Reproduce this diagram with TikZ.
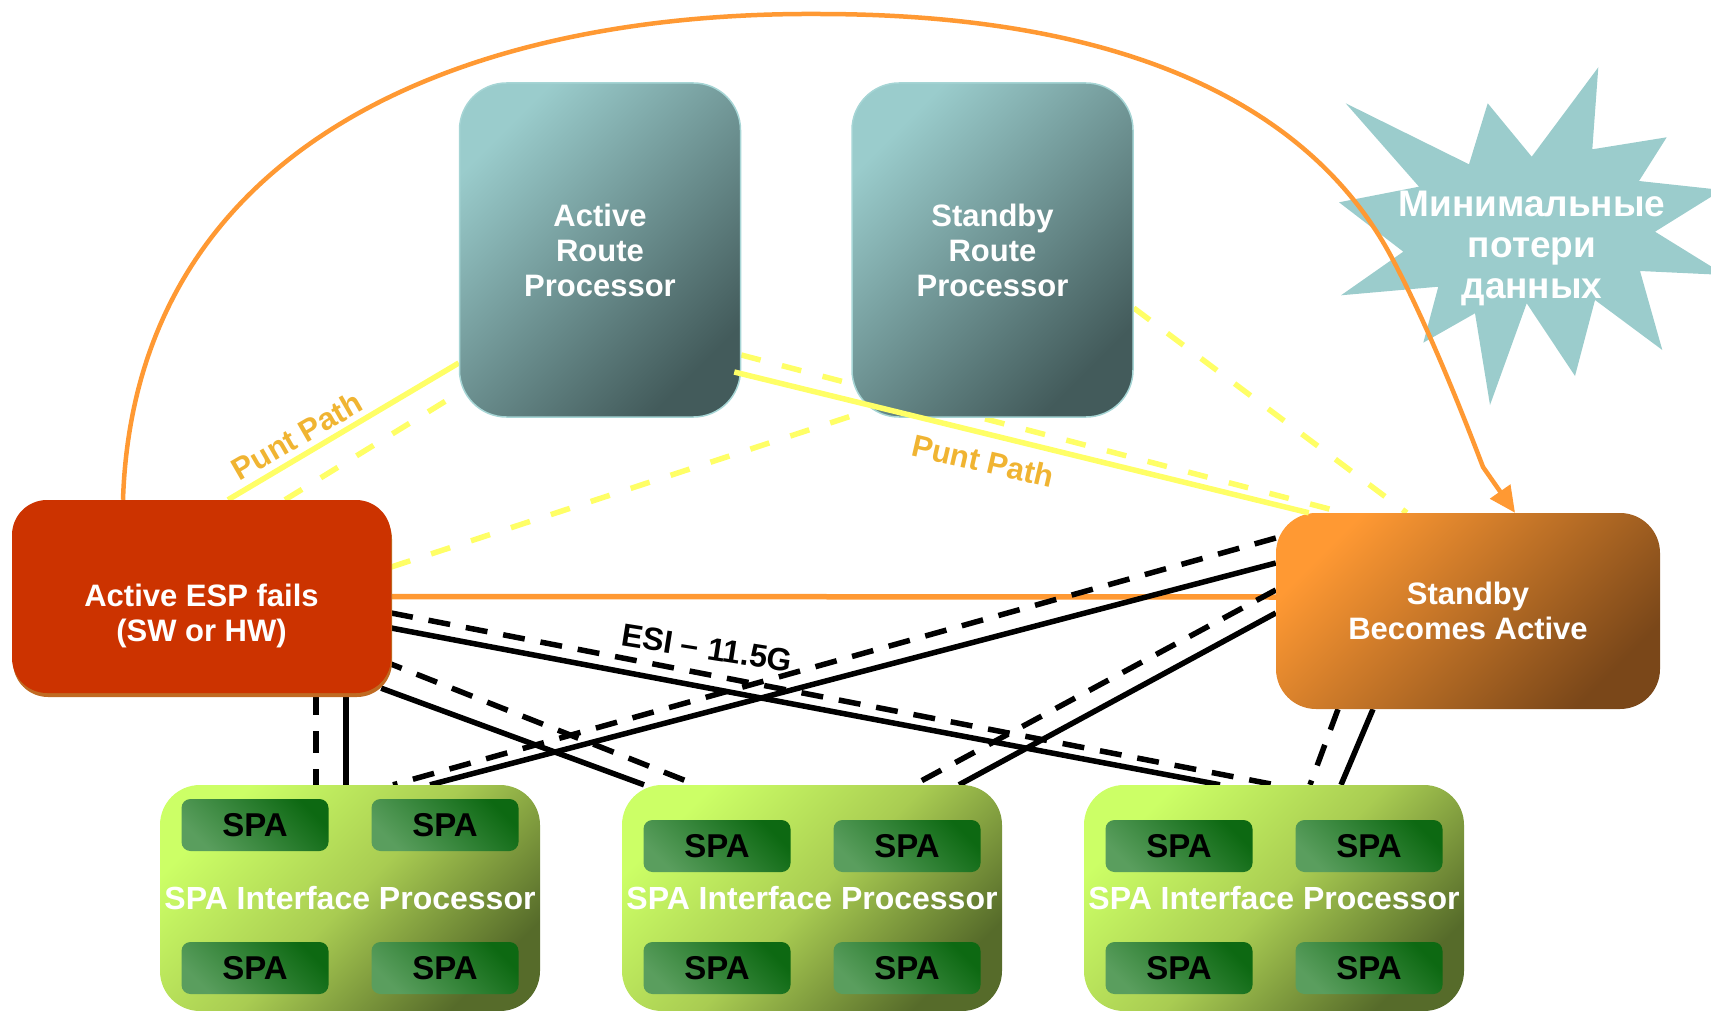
\documentclass[tikz,border=0pt]{standalone}
\usepackage{fontspec}
\setmainfont{Liberation Sans}
\usepackage{tikz}
\usetikzlibrary{arrows.meta,positioning,backgrounds,shadows}
\definecolor{espred}{HTML}{CC3300}
\definecolor{espshade}{HTML}{C06A22}
\definecolor{stbylight}{HTML}{FF9933}
\definecolor{stbydark}{HTML}{7A4719}
\definecolor{rplight}{HTML}{9ACCCC}
\definecolor{rpdark}{HTML}{435B5B}
\definecolor{rpedge}{HTML}{A6D5D5}
\definecolor{siplight}{HTML}{CCFF66}
\definecolor{sipmid}{HTML}{A9CC52}
\definecolor{sipdark}{HTML}{566B2A}
\definecolor{spalight}{HTML}{5A9E5E}
\definecolor{spadark}{HTML}{0D6912}
\definecolor{starfill}{HTML}{9BCCCC}
\definecolor{puntline}{HTML}{FFFF66}
\definecolor{puntgold}{HTML}{F0B432}
\definecolor{orng}{HTML}{FF9933}
\tikzset{
    boxtext/.style={inner sep=0pt, align=center, text=white, font=\fontsize{31}{35}\selectfont\bfseries},
    rpbox/.style={boxtext, minimum width=281pt, minimum height=334pt, rounded corners=47pt,
        draw=rpedge, line width=1.5pt, top color=rplight, bottom color=rpdark, shading angle=45},
    espbox/.style={inner sep=0pt, minimum width=379pt, minimum height=193pt, rounded corners=35pt,
        fill=espred, drop shadow={shadow xshift=1pt, shadow yshift=-4pt, fill=espshade, opacity=1}},
    stbybox/.style={boxtext, minimum width=384pt, minimum height=196pt, rounded corners=40pt,
        top color=stbylight, bottom color=stbydark, shading angle=45},
    sipbox/.style={boxtext, font=\fontsize{32}{36}\selectfont\bfseries, minimum width=380pt,
        minimum height=226pt, rounded corners=40pt, top color=siplight, bottom color=sipdark,
        middle color=sipmid, shading angle=45},
    spabox/.style={inner sep=0pt, font=\fontsize{33}{37}\selectfont\bfseries, minimum width=147pt,
        minimum height=52pt, rounded corners=9pt, top color=spadark, bottom color=spalight, shading angle=-45},
    puntlabel/.style={inner sep=0pt, text=puntgold, font=\fontsize{31}{35}\selectfont\bfseries},
    esilabel/.style={inner sep=0pt, font=\fontsize{32}{36}\selectfont\bfseries},
    ylw/.style={draw=puntline, line width=5.5pt},
    ylwdash/.style={ylw, dash pattern=on 20pt off 22pt},
    blk/.style={draw=black, line width=5.5pt},
    blkdash/.style={blk, dash pattern=on 22pt off 16pt},
    orngline/.style={draw=orng, line width=5.5pt},
    failover/.style={draw=orng, line width=4.5pt, -{Triangle[length=26pt,width=24pt]}}
}
\newcommand{\sipcard}[3]{
    \pgfmathsetmacro{\x}{#2}
    \pgfmathsetmacro{\y}{#3}
    \node[sipbox] (#1) at (\x, 898) {SPA Interface Processor};
    \node[spabox] (#1a) at (\x-95, \y) {SPA};
    \node[spabox] (#1b) at (\x+95, \y) {SPA};
    \node[spabox] (#1c) at (\x-95, 968) {SPA};
    \node[spabox] (#1d) at (\x+95, 968) {SPA};
}

\begin{document}
\begin{tikzpicture}[x=1pt, y=-1pt]
    \useasboundingbox (0,0) rectangle (1711,1011);

    \node[rpbox] (arp) at (600,250) {Active\\Route\\Processor};
    \node[rpbox] (srp) at (992.5,250) {Standby\\Route\\Processor};
    \node[espbox] (esp) at (201.5,596.5) {};
    \node[boxtext] (esptext) at ([yshift=-19pt]esp.center) {Active ESP fails\\(SW or HW)};
    \node[stbybox] (stby) at (1468,611) {Standby\\Becomes Active};

    \sipcard{sip1}{350}{825}
    \sipcard{sip2}{812}{846}
    \sipcard{sip3}{1274}{846}

    % starburst
    \fill[starfill] (1345.7,103.3) -- (1469,164.3) -- (1487.7,103.3) -- (1531.7,156.7)
        -- (1598.3,67.3) -- (1592.3,149.3) -- (1666.7,137.3) -- (1639,181)
        -- (1722,190) -- (1655,231.7) -- (1725,275) -- (1640,271)
        -- (1662.3,350) -- (1595,300) -- (1575,376) -- (1526.7,303.3)
        -- (1490,405) -- (1475,313.3) -- (1423.3,342.7) -- (1438.3,286.7)
        -- (1341,295.3) -- (1403.3,251.7) -- (1339,202.3) -- (1419,186.7) -- cycle;
    \node[boxtext, font=\fontsize{37}{41}\selectfont\bfseries] (loss) at (1532,248) {Минимальные\\потери\\данных};

    \begin{scope}[on background layer]
        \draw[ylw] ([xshift=26.5pt]esp.north) -- ([yshift=-113pt]arp.west);
        \draw[ylwdash] ([xshift=83.5pt]esp.north) -- ([yshift=-143pt]arp.west);
        \draw[ylwdash] ([yshift=29.5pt]esp.east) -- ([xshift=10pt,yshift=5pt]srp.south west);
        \draw[ylwdash] ([yshift=-105pt]arp.east) -- ([xshift=68pt]stby.north west);
        \draw[ylwdash] ([yshift=-58pt]srp.east) -- ([xshift=131pt]stby.north west);
        \draw[orngline] (esp.east) -- ([yshift=14pt]stby.west);

        \draw[blkdash] ([xshift=114.5pt]esp.south) -- ([xshift=-34pt]sip1.north);
        \draw[blk] ([xshift=144.5pt]esp.south) -- ([xshift=-4pt]sip1.north);
        \draw[blkdash] ([yshift=-16.5pt]esp.east) -- ([xshift=1pt]sip3.north);
        \draw[blk] ([yshift=-31.5pt]esp.east) -- ([xshift=-54pt]sip3.north);
        \draw[blkdash] ([xshift=-10pt,yshift=33pt]esp.south east) -- ([xshift=-116pt]sip2.north);
        \draw[blk] ([xshift=-10pt,yshift=5pt]esp.south east) -- ([xshift=-168pt]sip2.north);
        \draw[blkdash] ([yshift=73pt]stby.west) -- ([xshift=43pt]sip1.north);
        \draw[blk] ([yshift=48pt]stby.west) -- ([xshift=80pt]sip1.north);
        \draw[blkdash] ([yshift=21pt]stby.west) -- ([xshift=102pt]sip2.north);
        \draw[blk] ([yshift=-2pt]stby.west) -- ([xshift=147pt]sip2.north);
        \draw[blkdash] ([xshift=-130pt]stby.south) -- ([xshift=36pt]sip3.north);
        \draw[blk] ([xshift=-95pt]stby.south) -- ([xshift=67pt]sip3.north);
    \end{scope}

    \draw[ylw] ([xshift=-7pt,yshift=-122pt]arp.east) -- ([xshift=33pt]stby.north west);

    \draw[failover] ([xshift=-78.5pt]esp.north) .. controls (135,140) and (470,12) .. (818,14)
        .. controls (1150,14) and (1320,120) .. (1393,260)
        .. controls (1430,330) and (1465,420) .. (1483,467) -- ([xshift=47pt]stby.north);

    \node[puntlabel, rotate=30] (punt1) at (297,436) {Punt Path};
    \node[puntlabel, rotate=-13] (punt2) at (983,461) {Punt Path};
    \node[esilabel, rotate=-9] (esi) at (707,648) {ESI – 11.5G};
\end{tikzpicture}
\end{document}
